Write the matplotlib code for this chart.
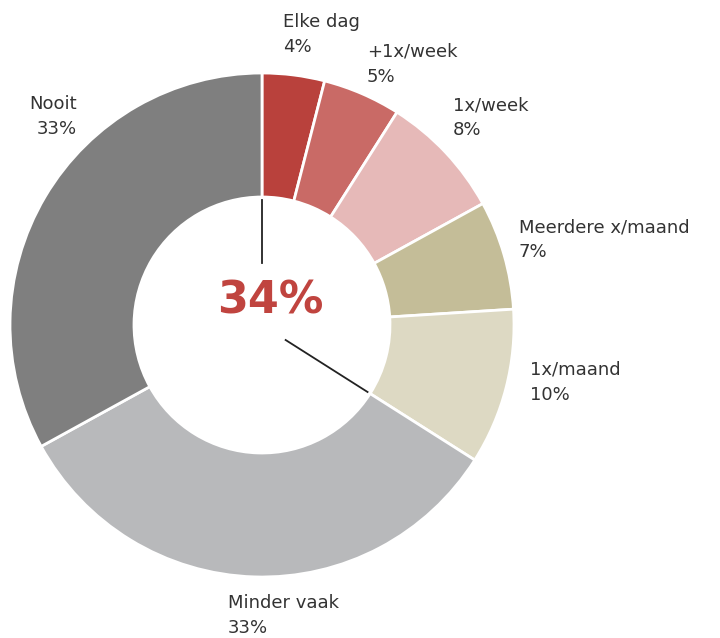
import numpy as np
import matplotlib
matplotlib.use("Agg")
import matplotlib.pyplot as plt

plt.rcParams['font.family'] = ['DejaVu Sans']

# data
categories = ["Elke dag", "+1x/week", "1x/week", "Meerdere x/maand",
              "1x/maand", "Minder vaak", "Nooit"]
shares = [4, 5, 8, 7, 10, 33, 33]
colors = ["#b9413c", "#c96a66", "#e6b9b8", "#c4bd98",
          "#ddd9c3", "#b8b9bb", "#7f7f7f"]
highlight = 34  # sum of first five

# label anchors (pixel coords, baseline of first line) and alignment
label_pos = [(283, 27, 'left'), (367, 57, 'left'), (453, 110, 'left'),
             (519, 232, 'left'), (530, 375, 'left'), (228, 608, 'left'),
             (77, 109, 'right')]

cx, cy = 262, 325
r_out, r_in = 252, 128

fig = plt.figure(figsize=(7.2, 6.38), dpi=100)
ax = fig.add_axes([0, 0, 1, 1])

# y axis is inverted, so counterclock in data = clockwise on screen
ax.pie(shares, colors=colors, center=(cx, cy), radius=r_out,
       startangle=-90, counterclock=True, frame=True,
       wedgeprops=dict(width=r_out - r_in, edgecolor='white', linewidth=2))
ax.set_xlim(0, 720)
ax.set_ylim(638, 0)
ax.set_aspect('equal')
ax.axis('off')

for (name, val), (x, y, ha) in zip(zip(categories, shares), label_pos):
    ax.text(x, y, name, ha=ha, va='baseline', fontsize=13, color='#333333')
    ax.text(x, y + 25, f"{val}%", ha=ha, va='baseline', fontsize=13,
            color='#333333')

# marker lines in the hole
def radial(f, r):
    a = 2 * np.pi * f
    return cx + r * np.sin(a), cy - r * np.cos(a)

p1, p2 = radial(0, 62), radial(0, 125)
ax.plot([p1[0], p2[0]], [p1[1], p2[1]], color='#222222', lw=1.3)
q1, q2 = radial(highlight / 100, 28), radial(highlight / 100, 125)
ax.plot([q1[0], q2[0]], [q1[1], q2[1]], color='#222222', lw=1.3)

ax.text(270, 301, f"{highlight}%", ha='center', va='center', fontsize=32,
        fontweight='bold', color='#c0443f')

fig.savefig("out.png", dpi=100)
